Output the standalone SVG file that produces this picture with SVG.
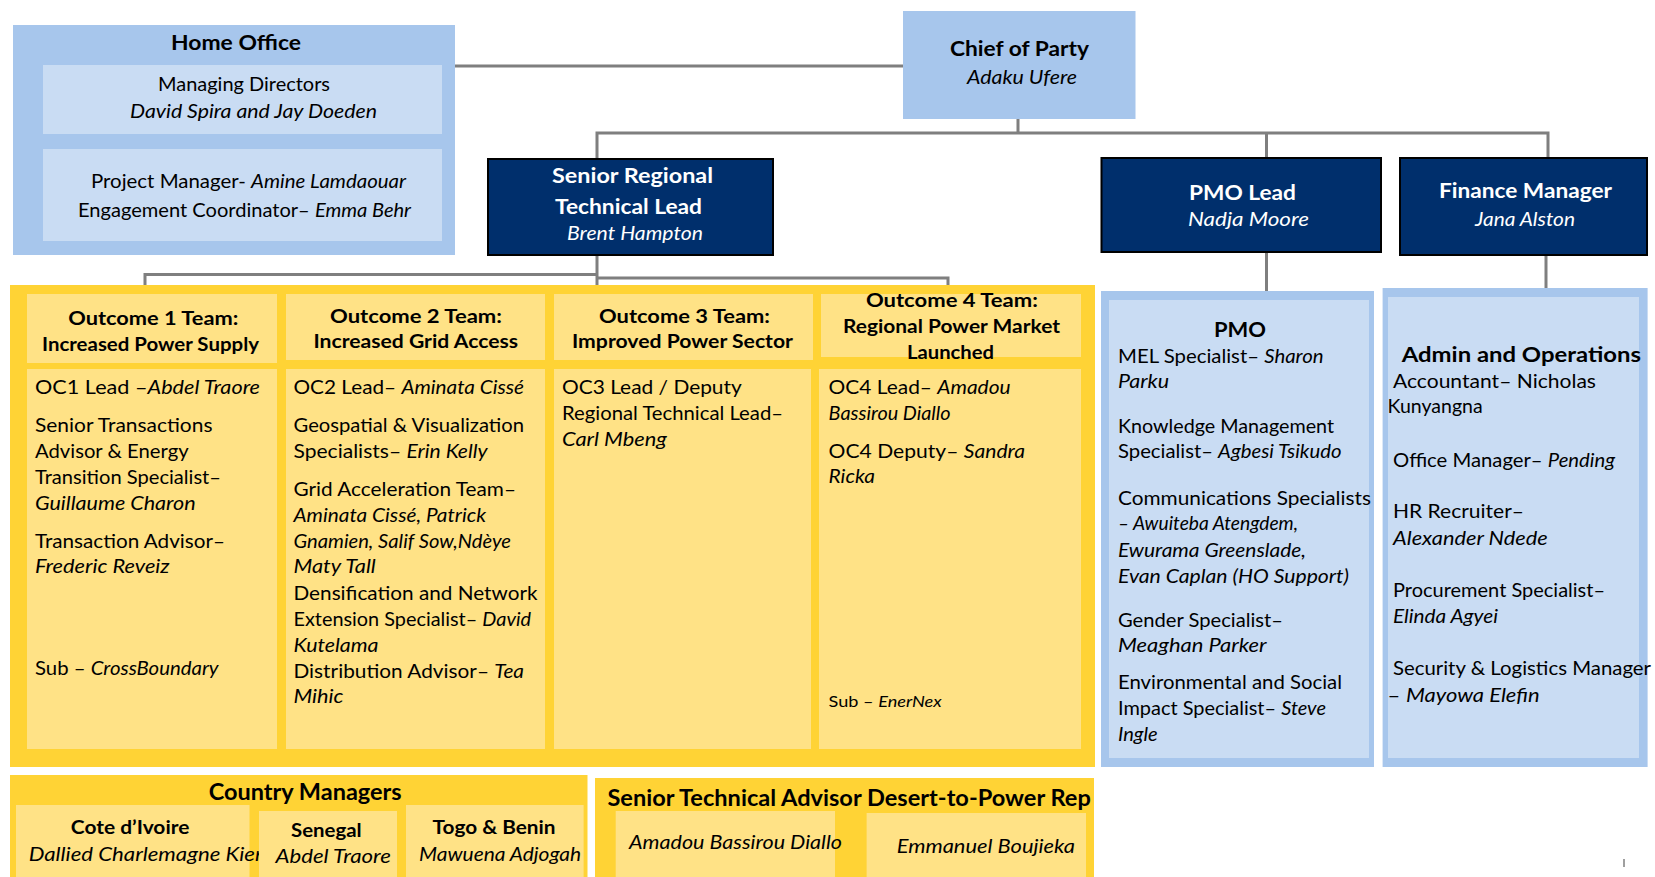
<svg xmlns="http://www.w3.org/2000/svg" width="1655" height="877" viewBox="0 0 1655 877">
  <style>
    text { font-family: Lato, "Liberation Sans", sans-serif; fill: #000; }
    .b { font-weight: 700; }
    .i { font-style: italic; }
    .w { fill: #fff; }
    .c { text-anchor: middle; }
    .s20 { font-size: 20px; }
    .s21 { font-size: 21px; }
    .s22 { font-size: 22px; }
    .s18 { font-size: 18px; }
    .s16 { font-size: 16px; }
    .blueOuter { fill: #A7C6EC; }
    .blueInner { fill: #C9DCF3; }
    .navy { fill: #002F6C; stroke: #000; stroke-width: 2; }
    .yelOuter { fill: #FFD335; }
    .yelInner { fill: #FFE286; }
    .conn { stroke: #7F7F7F; stroke-width: 3; fill: none; }
  </style>

  <!-- reporting lines -->
  <g id="connectors" class="conn">
    <path d="M455 66 H903"/>
    <path d="M1018 119 V133"/>
    <path d="M597 159 V133 H1548 V158"/>
    <path d="M1266.5 133 V158"/>
    <path d="M597 255 V285"/>
    <path d="M145 286 V274.5 H597"/>
    <path d="M597 278 H948 V286"/>
    <path d="M1266.5 252 V291"/>
    <path d="M1546 255 V288"/>
  </g>

  <!-- Home Office -->
  <g id="home-office">
    <rect class="blueOuter" x="13" y="25" width="442" height="230"/>
    <rect class="blueInner" x="43" y="65" width="399" height="69"/>
    <rect class="blueInner" x="43" y="149" width="399" height="92"/>
    <text class="b s21 c" x="236" y="50" textLength="130" lengthAdjust="spacingAndGlyphs">Home Office</text>
    <text class="s20 c" x="244" y="91" textLength="172" lengthAdjust="spacingAndGlyphs">Managing Directors</text>
    <text class="i s20 c" x="253.5" y="118" textLength="247" lengthAdjust="spacingAndGlyphs">David Spira and Jay Doeden</text>
    <text class="s20" x="91" y="188" textLength="315" lengthAdjust="spacingAndGlyphs">Project Manager- <tspan class="i">Amine Lamdaouar</tspan></text>
    <text class="s20" x="78" y="217" textLength="333" lengthAdjust="spacingAndGlyphs">Engagement Coordinator– <tspan class="i">Emma Behr</tspan></text>
  </g>

  <!-- Chief of Party -->
  <g id="chief-of-party">
    <rect class="blueOuter" x="903" y="11" width="232.5" height="108"/>
    <text class="b s21 c" x="1019.5" y="56" textLength="139" lengthAdjust="spacingAndGlyphs">Chief of Party</text>
    <text class="i s20 c" x="1022" y="84" textLength="110" lengthAdjust="spacingAndGlyphs">Adaku Ufere</text>
  </g>

  <!-- Senior Regional Technical Lead -->
  <g id="senior-regional-technical-lead">
    <rect class="navy" x="488" y="159" width="285" height="96"/>
    <text class="b s21 c w" x="632.5" y="183" textLength="161" lengthAdjust="spacingAndGlyphs">Senior Regional</text>
    <text class="b s21 c w" x="628.5" y="214" textLength="147" lengthAdjust="spacingAndGlyphs">Technical Lead</text>
    <text class="i s20 c w" x="635" y="240" textLength="136" lengthAdjust="spacingAndGlyphs">Brent Hampton</text>
  </g>

  <!-- PMO Lead -->
  <g id="pmo-lead">
    <rect class="navy" x="1101.5" y="158" width="279.5" height="94"/>
    <text class="b s21 c w" x="1242.5" y="200" textLength="107" lengthAdjust="spacingAndGlyphs">PMO Lead</text>
    <text class="i s20 c w" x="1248.5" y="226" textLength="121" lengthAdjust="spacingAndGlyphs">Nadja Moore</text>
  </g>

  <!-- Finance Manager -->
  <g id="finance-manager">
    <rect class="navy" x="1400" y="158" width="247" height="97"/>
    <text class="b s21 c w" x="1525.5" y="198" textLength="173" lengthAdjust="spacingAndGlyphs">Finance Manager</text>
    <text class="i s20 c w" x="1525" y="226" textLength="100" lengthAdjust="spacingAndGlyphs">Jana Alston</text>
  </g>

  <!-- Outcome teams panel -->
  <g id="outcome-teams">
    <rect class="yelOuter" x="10" y="285" width="1085" height="482"/>
  </g>

  <g id="outcome-1">
    <rect class="yelInner" x="27" y="294" width="250" height="69"/>
    <rect class="yelInner" x="27" y="369" width="250" height="380"/>
    <text class="b s18 c" x="153.3" y="325" textLength="170" lengthAdjust="spacingAndGlyphs">Outcome 1 Team:</text>
    <text class="b s18 c" x="150.5" y="350.7" textLength="217" lengthAdjust="spacingAndGlyphs">Increased Power Supply</text>
    <text class="s20" x="35" y="394" textLength="225" lengthAdjust="spacingAndGlyphs">OC1 Lead –<tspan class="i">Abdel Traore</tspan></text>
    <text class="s20" x="35" y="432" textLength="177.5" lengthAdjust="spacingAndGlyphs">Senior Transactions</text>
    <text class="s20" x="35" y="458" textLength="153.6" lengthAdjust="spacingAndGlyphs">Advisor &amp; Energy</text>
    <text class="s20" x="35" y="484" textLength="186" lengthAdjust="spacingAndGlyphs">Transition Specialist–</text>
    <text class="i s20" x="35" y="510" textLength="160.7" lengthAdjust="spacingAndGlyphs">Guillaume Charon</text>
    <text class="s20" x="35" y="547.7" textLength="190" lengthAdjust="spacingAndGlyphs">Transaction Advisor–</text>
    <text class="i s20" x="35" y="573" textLength="134.6" lengthAdjust="spacingAndGlyphs">Frederic Reveiz</text>
    <text class="s20" x="35" y="675" textLength="183.6" lengthAdjust="spacingAndGlyphs">Sub – <tspan class="i">CrossBoundary</tspan></text>
  </g>

  <g id="outcome-2">
    <rect class="yelInner" x="286" y="294" width="259" height="66"/>
    <rect class="yelInner" x="286" y="369" width="259" height="380"/>
    <text class="b s18 c" x="416" y="322.7" textLength="172" lengthAdjust="spacingAndGlyphs">Outcome 2 Team:</text>
    <text class="b s18 c" x="415.75" y="348" textLength="204.5" lengthAdjust="spacingAndGlyphs">Increased Grid Access</text>
    <text class="s20" x="293.5" y="394" textLength="230.5" lengthAdjust="spacingAndGlyphs">OC2 Lead– <tspan class="i">Aminata Cissé</tspan></text>
    <text class="s20" x="293.5" y="432" textLength="230.5" lengthAdjust="spacingAndGlyphs">Geospatial &amp; Visualization</text>
    <text class="s20" x="293.5" y="458" textLength="194" lengthAdjust="spacingAndGlyphs">Specialists– <tspan class="i">Erin Kelly</tspan></text>
    <text class="s20" x="293.5" y="496" textLength="222.5" lengthAdjust="spacingAndGlyphs">Grid Acceleration Team–</text>
    <text class="i s20" x="293.5" y="521.7" textLength="192.5" lengthAdjust="spacingAndGlyphs">Aminata Cissé, Patrick</text>
    <text class="i s20" x="293.5" y="547.7" textLength="217.5" lengthAdjust="spacingAndGlyphs">Gnamien, Salif Sow,Ndèye</text>
    <text class="i s20" x="293.5" y="573" textLength="82.2" lengthAdjust="spacingAndGlyphs">Maty Tall</text>
    <text class="s20" x="293.5" y="600" textLength="244" lengthAdjust="spacingAndGlyphs">Densification and Network</text>
    <text class="s20" x="293.5" y="626" textLength="237.5" lengthAdjust="spacingAndGlyphs">Extension Specialist– <tspan class="i">David</tspan></text>
    <text class="i s20" x="293.5" y="651.7" textLength="85" lengthAdjust="spacingAndGlyphs">Kutelama</text>
    <text class="s20" x="293.5" y="678" textLength="230.5" lengthAdjust="spacingAndGlyphs">Distribution Advisor– <tspan class="i">Tea</tspan></text>
    <text class="i s20" x="293.5" y="703" textLength="50" lengthAdjust="spacingAndGlyphs">Mihic</text>
  </g>

  <g id="outcome-3">
    <rect class="yelInner" x="554" y="294" width="259" height="66"/>
    <rect class="yelInner" x="554" y="369" width="257" height="380"/>
    <text class="b s18 c" x="684.5" y="322.7" textLength="171" lengthAdjust="spacingAndGlyphs">Outcome 3 Team:</text>
    <text class="b s18 c" x="682.5" y="348" textLength="221" lengthAdjust="spacingAndGlyphs">Improved Power Sector</text>
    <text class="s20" x="562" y="394" textLength="179.8" lengthAdjust="spacingAndGlyphs">OC3 Lead / Deputy</text>
    <text class="s20" x="562" y="420" textLength="221" lengthAdjust="spacingAndGlyphs">Regional Technical Lead–</text>
    <text class="i s20" x="562" y="445.7" textLength="104.8" lengthAdjust="spacingAndGlyphs">Carl Mbeng</text>
  </g>

  <g id="outcome-4">
    <rect class="yelInner" x="821" y="294" width="260" height="63"/>
    <rect class="yelInner" x="819" y="369" width="262" height="380"/>
    <text class="b s18 c" x="951.9" y="307" textLength="172" lengthAdjust="spacingAndGlyphs">Outcome 4 Team:</text>
    <text class="b s18 c" x="951.5" y="333" textLength="217" lengthAdjust="spacingAndGlyphs">Regional Power Market</text>
    <text class="b s18 c" x="950.5" y="359" textLength="87" lengthAdjust="spacingAndGlyphs">Launched</text>
    <text class="s20" x="828.6" y="394" textLength="182" lengthAdjust="spacingAndGlyphs">OC4 Lead– <tspan class="i">Amadou</tspan></text>
    <text class="i s20" x="828.6" y="420" textLength="122" lengthAdjust="spacingAndGlyphs">Bassirou Diallo</text>
    <text class="s20" x="828.6" y="458" textLength="196.4" lengthAdjust="spacingAndGlyphs">OC4 Deputy– <tspan class="i">Sandra</tspan></text>
    <text class="i s20" x="828.6" y="483" textLength="46.4" lengthAdjust="spacingAndGlyphs">Ricka</text>
    <text class="s16" x="828.6" y="706.7" textLength="113" lengthAdjust="spacingAndGlyphs">Sub – <tspan class="i">EnerNex</tspan></text>
  </g>

  <!-- PMO team -->
  <g id="pmo">
    <rect class="blueOuter" x="1101" y="291" width="273" height="476"/>
    <rect class="blueInner" x="1109" y="300" width="260" height="458"/>
    <text class="b s21 c" x="1240" y="337" textLength="52" lengthAdjust="spacingAndGlyphs">PMO</text>
    <text class="s20" x="1118" y="363" textLength="205.5" lengthAdjust="spacingAndGlyphs">MEL Specialist– <tspan class="i">Sharon</tspan></text>
    <text class="i s20" x="1118" y="388" textLength="51" lengthAdjust="spacingAndGlyphs">Parku</text>
    <text class="s20" x="1118" y="433" textLength="216" lengthAdjust="spacingAndGlyphs">Knowledge Management</text>
    <text class="s20" x="1118" y="458" textLength="223.5" lengthAdjust="spacingAndGlyphs">Specialist– <tspan class="i">Agbesi Tsikudo</tspan></text>
    <text class="s20" x="1118" y="505" textLength="253" lengthAdjust="spacingAndGlyphs">Communications Specialists</text>
    <text class="i s20" x="1118" y="530" textLength="180" lengthAdjust="spacingAndGlyphs">– Awuiteba Atengdem,</text>
    <text class="i s20" x="1118" y="557" textLength="188" lengthAdjust="spacingAndGlyphs">Ewurama Greenslade,</text>
    <text class="i s20" x="1118" y="583" textLength="231" lengthAdjust="spacingAndGlyphs">Evan Caplan (HO Support)</text>
    <text class="s20" x="1118" y="627" textLength="165" lengthAdjust="spacingAndGlyphs">Gender Specialist–</text>
    <text class="i s20" x="1118" y="652" textLength="148.5" lengthAdjust="spacingAndGlyphs">Meaghan Parker</text>
    <text class="s20" x="1118" y="689" textLength="224" lengthAdjust="spacingAndGlyphs">Environmental and Social</text>
    <text class="s20" x="1118" y="715" textLength="208" lengthAdjust="spacingAndGlyphs">Impact Specialist– <tspan class="i">Steve</tspan></text>
    <text class="i s20" x="1118" y="741" textLength="39.7" lengthAdjust="spacingAndGlyphs">Ingle</text>
  </g>

  <!-- Admin and Operations team -->
  <g id="admin-operations">
    <rect class="blueOuter" x="1382.6" y="288" width="265" height="479"/>
    <rect class="blueInner" x="1388" y="297" width="251" height="461"/>
    <text class="b s21" x="1401.7" y="362" textLength="239.3" lengthAdjust="spacingAndGlyphs">Admin and Operations</text>
    <text class="s20" x="1393" y="388" textLength="203" lengthAdjust="spacingAndGlyphs">Accountant–  Nicholas</text>
    <text class="s20" x="1387.6" y="413" textLength="95" lengthAdjust="spacingAndGlyphs">Kunyangna</text>
    <text class="s20" x="1393" y="467" textLength="222" lengthAdjust="spacingAndGlyphs">Office Manager– <tspan class="i">Pending</tspan></text>
    <text class="s20" x="1393" y="518" textLength="131" lengthAdjust="spacingAndGlyphs">HR Recruiter–</text>
    <text class="i s20" x="1393" y="545" textLength="154.6" lengthAdjust="spacingAndGlyphs">Alexander Ndede</text>
    <text class="s20" x="1393" y="597" textLength="212" lengthAdjust="spacingAndGlyphs">Procurement Specialist–</text>
    <text class="i s20" x="1393" y="623" textLength="105" lengthAdjust="spacingAndGlyphs">Elinda Agyei</text>
    <text class="s20" x="1393" y="675" textLength="258" lengthAdjust="spacingAndGlyphs">Security &amp; Logistics Manager</text>
    <text class="s20" x="1387.6" y="702" textLength="152" lengthAdjust="spacingAndGlyphs">–  <tspan class="i">Mayowa Elefin</tspan></text>
  </g>

  <!-- Country Managers -->
  <g id="country-managers">
    <rect class="yelOuter" x="10" y="775" width="577.5" height="102"/>
    <rect class="yelInner" x="16" y="805" width="233.5" height="72"/>
    <text class="b s18 c" x="130.1" y="834" textLength="118.6" lengthAdjust="spacingAndGlyphs">Cote d’Ivoire</text>
    <text class="i s20" x="28.7" y="860.7" textLength="238" lengthAdjust="spacingAndGlyphs">Dallied Charlemagne Kien</text>
    <rect class="yelInner" x="259" y="811" width="138" height="66"/>
    <rect class="yelInner" x="406" y="805" width="177.6" height="72"/>
    <text class="b s22 c" x="305.2" y="800" textLength="193" lengthAdjust="spacingAndGlyphs">Country Managers</text>
    <text class="b s18 c" x="326.3" y="836.7" textLength="70.6" lengthAdjust="spacingAndGlyphs">Senegal</text>
    <text class="i s20 c" x="333.2" y="863" textLength="115.5" lengthAdjust="spacingAndGlyphs">Abdel Traore</text>
    <text class="b s18 c" x="494.1" y="834" textLength="123" lengthAdjust="spacingAndGlyphs">Togo &amp; Benin</text>
    <text class="i s20 c" x="500" y="860.7" textLength="162" lengthAdjust="spacingAndGlyphs">Mawuena Adjogah</text>
  </g>

  <!-- Senior Technical Advisor -->
  <g id="senior-technical-advisor">
    <rect class="yelOuter" x="595" y="778" width="499" height="99"/>
    <rect class="yelInner" x="615.7" y="811" width="219.3" height="66"/>
    <rect class="yelInner" x="866.6" y="813" width="219.4" height="64"/>
    <text class="b s22 c" x="849.1" y="806" textLength="483.4" lengthAdjust="spacingAndGlyphs">Senior Technical Advisor Desert-to-Power Rep</text>
    <text class="i s20 c" x="735.5" y="849" textLength="213" lengthAdjust="spacingAndGlyphs">Amadou Bassirou Diallo</text>
    <text class="i s20 c" x="985.9" y="852.7" textLength="178.3" lengthAdjust="spacingAndGlyphs">Emmanuel Boujieka</text>
  </g>

  <!-- small page mark -->
  <line x1="1624" y1="859" x2="1624" y2="867" stroke="#7F7F7F" stroke-width="1.5"/>
</svg>
